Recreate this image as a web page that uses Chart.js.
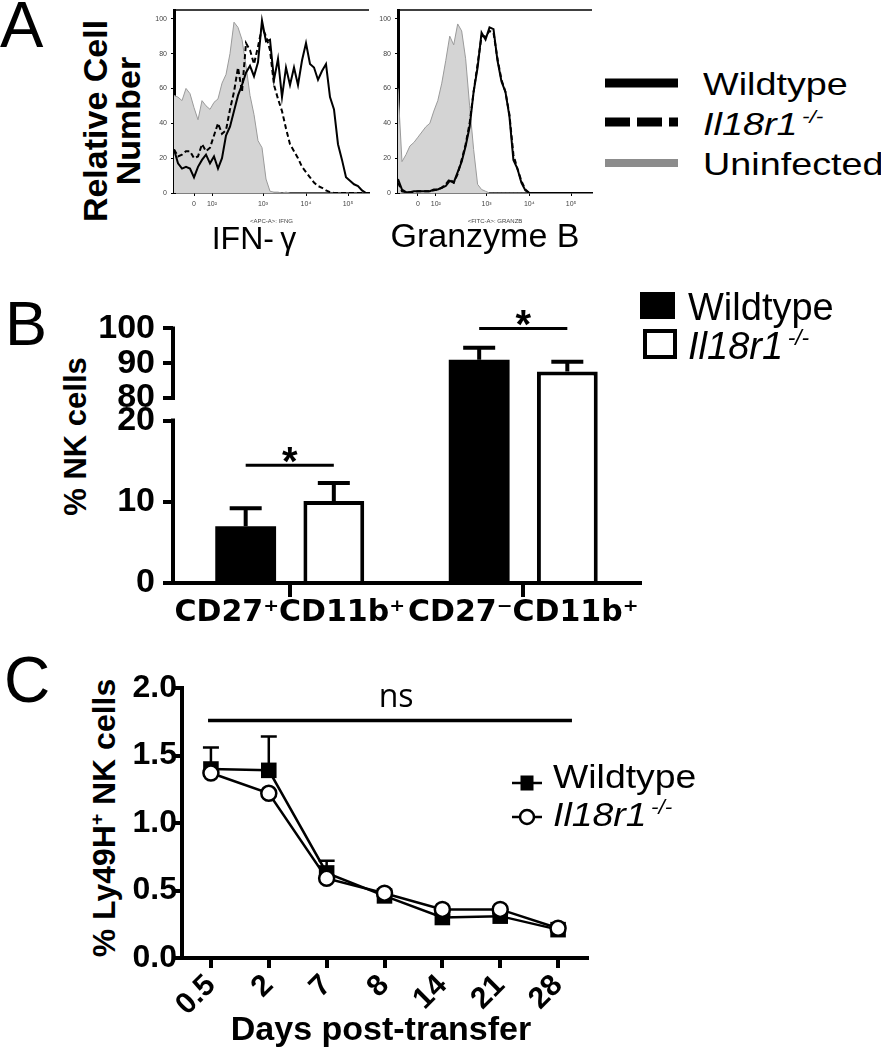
<!DOCTYPE html>
<html>
<head>
<meta charset="utf-8">
<title>Il18r1 NK cells</title>
<script src="https://cdn.jsdelivr.net/npm/chart.js@4.4.1/dist/chart.umd.min.js"></script>
<style>
  body { margin: 0; width: 881px; height: 1050px; position: relative; overflow: hidden; background: #fff; color: #000;
         font-family: "Liberation Sans", Arial, sans-serif; }
  .box { position: absolute; }
  .txt { position: absolute; white-space: nowrap; line-height: 1; }
  .rot { position: absolute; text-align: center; font-weight: bold; white-space: nowrap; transform: rotate(-90deg); }
  sup { font-size: 0.6em; vertical-align: 0.6em; line-height: 0; }
  .sx { transform-origin: 0 0; }
</style>
</head>
<body>

<!-- panel letters -->
<div class="txt" style="left:0;top:-8px;font-size:65px">A</div>
<div class="txt" style="left:5px;top:292px;font-size:63px">B</div>
<div class="txt" style="left:4px;top:648px;font-size:64px">C</div>

<!-- panel A -->
<div class="rot" style="left:2px;top:88px;width:220px;font-size:34px;line-height:33px">Relative Cell<br>Number</div>
<div class="box" style="left:130px;top:0;width:245px;height:225px"><canvas id="histIfn"></canvas></div>
<div class="box" style="left:354px;top:0;width:244px;height:225px"><canvas id="histGzm"></canvas></div>
<div class="txt" style="left:254px;top:222px;font-size:32px;transform:translateX(-50%)">IFN-&thinsp;γ</div>
<div class="txt" style="left:485px;top:218px;font-size:34px;transform:translateX(-50%)">Granzyme B</div>

<svg class="box" style="left:600px;top:70px" width="85" height="105">
  <line x1="5" y1="13" x2="78" y2="13" stroke="#000" stroke-width="9"/>
  <line x1="5" y1="52" x2="78" y2="52" stroke="#000" stroke-width="9" stroke-dasharray="25 7"/>
  <line x1="5" y1="93" x2="78" y2="93" stroke="#8c8c8c" stroke-width="8"/>
</svg>
<div class="txt sx" style="left:703px;top:68px;font-size:32px;transform:scaleX(1.18)">Wildtype</div>
<div class="txt sx" style="left:703px;top:108px;font-size:32px;transform:scaleX(1.18)"><i>Il18r1<sup>&thinsp;-/-</sup></i></div>
<div class="txt sx" style="left:703px;top:148px;font-size:32px;transform:scaleX(1.18)">Uninfected</div>

<!-- panel B -->
<div class="rot" style="left:-25px;top:421px;width:200px;font-size:31px;line-height:31px">% NK cells</div>
<div class="box" style="left:20px;top:300px;width:630px;height:330px"><canvas id="chartB"></canvas></div>
<div class="box" style="left:640px;top:292px;width:35px;height:27px;background:#000"></div>
<div class="box" style="left:643px;top:329px;width:34px;height:30px;border:4px solid #000;box-sizing:border-box;background:#fff"></div>
<div class="txt" style="left:688px;top:288px;font-size:38px">Wildtype</div>
<div class="txt" style="left:688px;top:327px;font-size:38px"><i>Il18r1<sup>&thinsp;-/-</sup></i></div>

<!-- panel C -->
<div class="rot" style="left:-56px;top:802px;width:320px;font-size:32px;line-height:32px">% Ly49H<sup>+</sup> NK cells</div>
<div class="box" style="left:120px;top:650px;width:480px;height:363px"><canvas id="chartC"></canvas></div>
<svg class="box" style="left:505px;top:770px" width="45" height="60">
  <line x1="7" y1="13" x2="37" y2="13" stroke="#000" stroke-width="2.5"/>
  <rect x="15.5" y="5.5" width="13" height="15" fill="#000"/>
  <line x1="7" y1="47" x2="37" y2="47" stroke="#000" stroke-width="2.5"/>
  <circle cx="22" cy="47" r="7" fill="#fff" stroke="#000" stroke-width="2.5"/>
</svg>
<div class="txt sx" style="left:553px;top:759px;font-size:34px;transform:scaleX(1.1)">Wildtype</div>
<div class="txt sx" style="left:553px;top:797px;font-size:34px;transform:scaleX(1.1)"><i>Il18r1<sup>&thinsp;-/-</sup></i></div>
<div class="txt" style="left:381px;top:1011px;font-size:34px;font-weight:bold;transform:translateX(-50%)">Days post-transfer</div>

<script>
// ---- Panel A: flow histograms (channel units across the plot, % of max) ----
const channels = [0, 4, 8, 12, 16, 20, 24, 28, 32, 36, 40, 44, 48, 52, 56, 60, 64, 68, 72, 76,
                  80, 84, 88, 92, 96, 100, 104, 108, 112, 116, 120, 124, 128, 132, 136, 140, 144, 148, 152, 156,
                  160, 164, 168, 172, 176, 180, 184, 188, 192, 196];
const histTickPos = [20, 38, 89, 132, 174];
const histTickLabels = ['0', '10²', '10³', '10⁴', '10⁵'];
const histYTicks = [0, 20, 40, 60, 80, 100];

const ifnUninfected = [56, 55, 53, 60, 57, 49, 42, 53, 50, 48, 52, 54, 63, 68, 80, 98, 95, 88, 73, 56,
                       45, 30, 26, 8, 1, 0.5, 0.5, 0, 0.5, 0, 0, 0, 0, 0, 0, 0, 0, 0, 0, 0,
                       0, 0, 0, 0, 0, 0, 0, 0, 0, 0];
const ifnWildtype = [25, 17, 14, 15, 14, 9, 15, 19, 22, 17, 21, 14, 20, 33, 38, 47, 56, 62, 69, 73,
                     67, 75, 99, 87, 88, 65, 77, 55, 72, 62, 72, 62, 76, 86, 74, 72, 65, 70, 74, 55,
                     48, 28, 19, 9, 7, 5, 4, 1.5, 0, 0];
const ifnKnockout = [25, 21, 22, 24, 24, 20, 21, 28, 24, 26, 33, 40, 34, 36, 48, 58, 72, 58, 86, 82,
                     74, 84, 95, 90, 82, 62, 54, 47, 37, 28, 24, 20, 15, 12, 9, 6, 4, 3, 1.5, 0.5,
                     0, 0, 0, 0, 0, 0, 0, 0, 0, 0];

const gzmUninfected = [60, 18, 22, 27, 29, 32, 35, 38, 40, 47, 53, 63, 76, 90, 85, 97, 93, 77, 50, 25,
                       5, 2, 1, 0, 0, 0, 0, 0, 0, 0, 0, 0, 0, 0, 0, 0, 0, 0, 0, 0,
                       0, 0, 0, 0, 0, 0, 0, 0, 0, 0];
const gzmWildtype = [8, 2, 0.5, 0.5, 1, 1, 1, 1, 1, 2, 2, 3, 4, 7, 6, 12, 18, 27, 38, 58,
                     72, 92, 88, 95, 94, 76, 64, 58, 44, 19, 14, 6, 1.5, 0, 0, 0, 0, 0, 0, 0,
                     0, 0, 0, 0, 0, 0, 0, 0, 0, 0];
const gzmKnockout = [6, 1, 0.5, 0.5, 0.5, 1, 1, 1, 1, 1.5, 2, 3, 5, 8, 6, 11, 19, 28, 40, 58,
                     74, 90, 90, 93, 92, 77, 65, 58, 45, 22, 14, 7, 2, 0, 0, 0, 0, 0, 0, 0,
                     0, 0, 0, 0, 0, 0, 0, 0, 0, 0];

// ---- Panel B: % NK cells ----
const subsetsB = ['CD27⁺CD11b⁺', 'CD27⁻CD11b⁺'];
const wildtypeB = [7.0, 91.0];
const wildtypeErrB = [2.2, 3.4];
const knockoutB = [10.1, 87.6];
const knockoutErrB = [2.2, 2.8];
const sigLevelsB = [14.5, 100];
const yTicksB = [0, 10, 20, 80, 90, 100];

// ---- Panel C: % Ly49H+ NK cells over time ----
const daysC = ['0.5', '2', '7', '8', '14', '21', '28'];
const wildtypeC = [1.40, 1.39, 0.63, 0.46, 0.30, 0.31, 0.21];
const wildtypeErrC = [0.16, 0.25, 0.09, 0.02, 0.02, 0.02, 0.02];
const knockoutC = [1.37, 1.22, 0.59, 0.48, 0.36, 0.36, 0.22];
const yTicksC = [0, 0.5, 1, 1.5, 2];
const nsLevelC = 1.76;

Chart.defaults.font.family = '"Liberation Sans", Arial, sans-serif';
Chart.defaults.color = '#000';
Chart.defaults.animation = false;
Chart.defaults.events = [];
Chart.defaults.plugins.legend.display = false;
Chart.defaults.plugins.tooltip.enabled = false;

// y scale with a break between 20 and 80
const LOW_TOP = 20, HIGH_BOTTOM = 80, LOW_FRAC = 0.638, HIGH_FRAC = 0.273;
class BrokenScale extends Chart.LinearScale {
    getPixelForValue(v) {
        if (v === null || v === undefined) return NaN;
        const h = this.bottom - this.top;
        let f;
        if (v <= LOW_TOP) f = v / LOW_TOP * LOW_FRAC;
        else if (v >= HIGH_BOTTOM) f = 1 - (this.max - v) / (this.max - HIGH_BOTTOM) * HIGH_FRAC;
        else f = LOW_FRAC + (v - LOW_TOP) / (HIGH_BOTTOM - LOW_TOP) * (1 - LOW_FRAC - HIGH_FRAC);
        return this.bottom - f * h;
    }
    getValueForPixel(p) {
        const f = (this.bottom - p) / (this.bottom - this.top);
        if (f <= LOW_FRAC) return f / LOW_FRAC * LOW_TOP;
        if (f >= 1 - HIGH_FRAC) return this.max - (1 - f) / HIGH_FRAC * (this.max - HIGH_BOTTOM);
        return LOW_TOP + (f - LOW_FRAC) / (1 - LOW_FRAC - HIGH_FRAC) * (HIGH_BOTTOM - LOW_TOP);
    }
}
BrokenScale.id = 'broken';
Chart.register(BrokenScale);

// top frame line of the histograms
const frameTop = {
    id: 'frameTop',
    afterDraw(chart) {
        const { ctx, chartArea: a } = chart;
        ctx.save();
        ctx.strokeStyle = '#000';
        ctx.lineWidth = 1.5;
        ctx.beginPath();
        ctx.moveTo(a.left, a.top);
        ctx.lineTo(a.right, a.top);
        ctx.stroke();
        ctx.restore();
    }
};

function makeHist(id, uninf, wt, ko, axisTitle) {
    new Chart(document.getElementById(id), {
        type: 'line',
        data: {
            labels: channels,
            datasets: [
                { data: wt, order: 1, borderColor: '#000', borderWidth: 2, pointRadius: 0, fill: false },
                { data: ko, order: 2, borderColor: '#000', borderWidth: 2, borderDash: [5, 3], pointRadius: 0, fill: false },
                { data: uninf, order: 3, borderColor: '#9a9a9a', borderWidth: 1, backgroundColor: '#d4d4d4',
                  pointRadius: 0, fill: 'origin' }
            ]
        },
        options: {
            responsive: true,
            maintainAspectRatio: false,
            layout: { padding: { top: 10, right: 6, left: 0, bottom: 0 } },
            scales: {
                x: {
                    type: 'linear', min: 0, max: 195,
                    afterBuildTicks: s => { s.ticks = histTickPos.map(v => ({ value: v })); },
                    afterFit: s => { s.height = 32; },
                    ticks: { callback: (v, i) => histTickLabels[i], autoSkip: false, maxRotation: 0,
                             font: { size: 7 }, color: '#444', padding: 4 },
                    grid: { drawOnChartArea: false, tickLength: 3, color: '#000' },
                    border: { color: '#000', width: 1.5 },
                    title: { display: true, text: axisTitle, font: { size: 6 }, color: '#444', padding: 0 }
                },
                y: {
                    min: 0, max: 105,
                    afterBuildTicks: s => { s.ticks = histYTicks.map(v => ({ value: v })); },
                    afterFit: s => { s.width = 44; },
                    ticks: { font: { size: 7 }, color: '#444', padding: 4 },
                    grid: { drawOnChartArea: false, tickLength: 3, color: '#000' },
                    border: { color: '#000', width: 3 }
                }
            }
        },
        plugins: [frameTop]
    });
}

makeHist('histIfn', ifnUninfected, ifnWildtype, ifnKnockout, '<APC-A>: IFNG');
makeHist('histGzm', gzmUninfected, gzmWildtype, gzmKnockout, '<FITC-A>: GRANZB');

// ---- Panel B ----
const bExtras = {
    id: 'bExtras',
    afterDatasetsDraw(chart) {
        const { ctx, chartArea: a } = chart;
        const y = chart.scales.y;
        const metaWt = chart.getDatasetMeta(0), metaKo = chart.getDatasetMeta(1);
        ctx.save();
        ctx.strokeStyle = '#000';
        ctx.fillStyle = '#000';
        ctx.lineWidth = 4;
        [[metaWt, wildtypeB, wildtypeErrB], [metaKo, knockoutB, knockoutErrB]].forEach(([meta, vals, errs]) => {
            meta.data.forEach((bar, i) => {
                const y0 = y.getPixelForValue(vals[i]);
                const y1 = y.getPixelForValue(vals[i] + errs[i]);
                ctx.beginPath();
                ctx.moveTo(bar.x, y0);
                ctx.lineTo(bar.x, y1);
                ctx.moveTo(bar.x - 16, y1);
                ctx.lineTo(bar.x + 16, y1);
                ctx.stroke();
            });
        });
        // significance bars
        ctx.lineWidth = 3;
        ctx.font = 'bold 40px "Liberation Sans", Arial, sans-serif';
        ctx.textAlign = 'center';
        ctx.textBaseline = 'alphabetic';
        sigLevelsB.forEach((lvl, i) => {
            const x0 = metaWt.data[i].x, x1 = metaKo.data[i].x;
            const py = y.getPixelForValue(lvl);
            ctx.beginPath();
            ctx.moveTo(x0, py);
            ctx.lineTo(x1, py);
            ctx.stroke();
            ctx.fillText('*', (x0 + x1) / 2, py + 10);
        });
        // broken y axis
        ctx.lineWidth = 4;
        ctx.beginPath();
        ctx.moveTo(a.left, y.getPixelForValue(0) + 2);
        ctx.lineTo(a.left, y.getPixelForValue(LOW_TOP) - 2);
        ctx.moveTo(a.left, y.getPixelForValue(HIGH_BOTTOM) + 2);
        ctx.lineTo(a.left, y.getPixelForValue(100) - 2);
        ctx.stroke();
        ctx.restore();
    }
};

new Chart(document.getElementById('chartB'), {
    type: 'bar',
    data: {
        labels: subsetsB,
        datasets: [
            { label: 'Wildtype', data: wildtypeB, backgroundColor: '#000', borderWidth: 0,
              barPercentage: 0.69, categoryPercentage: 0.755 },
            { label: 'Il18r1-/-', data: knockoutB, backgroundColor: '#fff', borderColor: '#000', borderWidth: 4,
              barPercentage: 0.69, categoryPercentage: 0.755 }
        ]
    },
    options: {
        responsive: true,
        maintainAspectRatio: false,
        layout: { padding: { top: 23, right: 10, left: 0, bottom: 0 } },
        scales: {
            x: {
                offset: true,
                afterFit: s => { s.height = 47; },
                ticks: { autoSkip: false, maxRotation: 0, padding: -2,
                         font: { family: '"DejaVu Sans", sans-serif', weight: 'bold', size: 30 } },
                grid: { offset: false, drawOnChartArea: false, tickLength: 14, lineWidth: 4, color: '#000' },
                border: { color: '#000', width: 4 }
            },
            y: {
                type: 'broken', min: 0, max: 100,
                afterBuildTicks: s => { s.ticks = yTicksB.map(v => ({ value: v })); },
                afterFit: s => { s.width = 153; },
                ticks: { font: { weight: 'bold', size: 34 }, padding: 8 },
                grid: { drawOnChartArea: false, tickLength: 10, lineWidth: 4, color: '#000' },
                border: { display: false }
            }
        }
    },
    plugins: [bExtras]
});

// ---- Panel C ----
const cExtras = {
    id: 'cExtras',
    beforeDatasetsDraw(chart) {
        const { ctx, scales: { x, y } } = chart;
        ctx.save();
        ctx.strokeStyle = '#000';
        ctx.lineWidth = 2.5;
        wildtypeC.forEach((v, i) => {
            const px = x.getPixelForValue(i);
            const y0 = y.getPixelForValue(v), y1 = y.getPixelForValue(v + wildtypeErrC[i]);
            ctx.beginPath();
            ctx.moveTo(px, y0);
            ctx.lineTo(px, y1);
            ctx.moveTo(px - 8, y1);
            ctx.lineTo(px + 8, y1);
            ctx.stroke();
        });
        ctx.restore();
    },
    afterDraw(chart) {
        const { ctx, scales: { x, y } } = chart;
        const py = y.getPixelForValue(nsLevelC);
        const x0 = x.getPixelForValue(-0.05), x1 = x.getPixelForValue(6.24);
        ctx.save();
        ctx.strokeStyle = '#000';
        ctx.lineWidth = 3.5;
        ctx.beginPath();
        ctx.moveTo(x0, py);
        ctx.lineTo(x1, py);
        ctx.stroke();
        ctx.fillStyle = '#000';
        ctx.font = '32px "Open Sans", sans-serif';
        ctx.textAlign = 'center';
        ctx.textBaseline = 'alphabetic';
        ctx.fillText('ns', x.getPixelForValue(3.2), py - 13);
        ctx.restore();
    }
};

new Chart(document.getElementById('chartC'), {
    type: 'line',
    data: {
        labels: daysC,
        datasets: [
            { label: 'Wildtype', data: wildtypeC, order: 2, borderColor: '#000', borderWidth: 2.5, tension: 0,
              pointStyle: 'rect', pointRadius: 11, pointBackgroundColor: '#000', pointBorderWidth: 0 },
            { label: 'Il18r1-/-', data: knockoutC, order: 1, borderColor: '#000', borderWidth: 2.5, tension: 0,
              pointStyle: 'circle', pointRadius: 7.5, pointBackgroundColor: '#fff', pointBorderColor: '#000',
              pointBorderWidth: 2.5 }
        ]
    },
    options: {
        responsive: true,
        maintainAspectRatio: false,
        layout: { padding: { top: 38, right: 13, left: 0, bottom: 0 } },
        scales: {
            x: {
                offset: true,
                afterFit: s => { s.height = 55; },
                ticks: { autoSkip: false, minRotation: 45, maxRotation: 45, padding: 0,
                         font: { weight: 'bold', size: 30 } },
                grid: { offset: false, drawOnChartArea: false, tickLength: 10, lineWidth: 4, color: '#000' },
                border: { color: '#000', width: 4 }
            },
            y: {
                min: 0, max: 2,
                afterBuildTicks: s => { s.ticks = yTicksC.map(v => ({ value: v })); },
                afterFit: s => { s.width = 62; },
                ticks: { callback: v => v.toFixed(1), padding: -3, font: { weight: 'bold', size: 32 } },
                grid: { drawOnChartArea: false, tickLength: 8, lineWidth: 4, color: '#000' },
                border: { color: '#000', width: 4 }
            }
        }
    },
    plugins: [cExtras]
});
</script>
</body>
</html>
